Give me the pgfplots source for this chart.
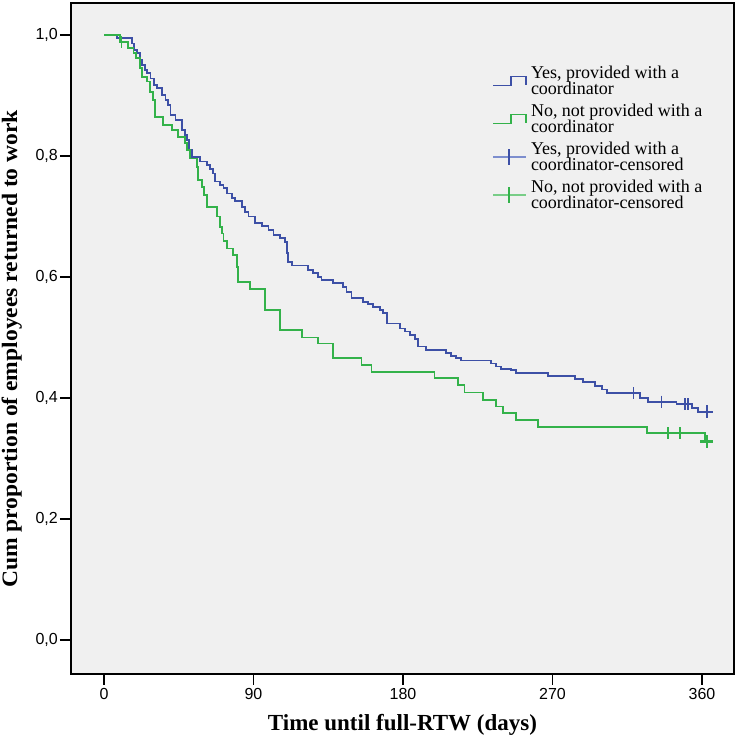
\documentclass[border=0pt]{standalone}
\usepackage{fontspec}
\setmainfont{Liberation Serif}
\newfontfamily\ticksfont{Liberation Sans}
\newfontfamily\ylabfont[FakeStretch=1.07]{Liberation Serif}
\usepackage{pgfplots}
\pgfplotsset{compat=1.18}
\definecolor{kmblue}{RGB}{61,80,166}
\definecolor{kmgreen}{RGB}{51,178,74}
\definecolor{kmbluel}{RGB}{125,142,206}
\definecolor{kmgreenl}{RGB}{120,205,135}
\definecolor{plotbg}{RGB}{240,240,240}

\pgfplotstableread{
d S
0 1.000
8 0.995
16.7 0.986
18 0.975
20 0.970
21.5 0.959
23 0.950
24.5 0.942
26 0.937
28 0.928
30 0.917
32 0.912
35 0.901
37 0.892
38.5 0.884
40 0.868
43 0.860
47 0.843
49 0.835
50 0.826
51 0.810
53 0.799
58 0.791
62 0.785
64 0.778
65.5 0.771
67 0.758
70 0.752
72 0.747
74 0.738
77 0.731
79 0.725
83 0.716
85 0.708
87 0.700
91 0.689
95 0.684
99 0.678
102 0.669
106 0.664
109 0.658
110 0.640
111 0.625
113 0.619
123 0.612
126 0.606
129 0.600
131 0.595
138 0.590
144 0.584
146 0.575
149 0.565
156 0.559
159 0.556
162 0.551
166 0.545
168 0.540
170.6 0.523
178 0.515
181 0.510
184 0.504
187 0.497
189 0.485
194 0.479
206 0.474
209 0.470
212 0.466
215 0.462
233 0.457
236 0.452
239 0.448
245 0.446
248 0.441
267.5 0.437
283.6 0.432
288.6 0.427
295.6 0.420
300 0.414
302.6 0.408
322.7 0.400
327.7 0.394
344.7 0.390
353.8 0.383
357.8 0.377
363 0.377
}\blueKM

\pgfplotstableread{
d S
0 1.000
9.6 0.989
14.6 0.978
17.7 0.970
19.5 0.962
21.7 0.946
22.7 0.931
25.7 0.923
27.7 0.906
29.7 0.893
30.7 0.865
35.7 0.851
40.8 0.843
44.7 0.832
48.8 0.821
50 0.810
51.8 0.796
55.8 0.782
56.8 0.760
58.8 0.749
60 0.735
61.8 0.716
67.8 0.700
69.8 0.683
70.9 0.672
72 0.660
73.9 0.647
77.9 0.636
79.9 0.617
80.9 0.592
87.9 0.580
96.9 0.546
106 0.512
119 0.500
129 0.490
138 0.466
155 0.455
161 0.4435
199 0.4325
213 0.421
217 0.409
228 0.397
236 0.386
240 0.375
248 0.364
261.5 0.352
326.7 0.342
362 0.328
363 0.328
}\greenKM

\begin{document}
\begin{tikzpicture}
\begin{axis}[
  scale only axis, width=663pt, height=671pt,
  xmin=-19.87, xmax=379.3, ymin=-0.0562, ymax=1.0529,
  axis background/.style={fill=plotbg},
  axis line style={line width=1.6pt, black},
  xtick={0,90,180,270,360}, xticklabels={0,90,180,270,360},
  ytick={0,0.2,0.4,0.6,0.8,1.0},
  yticklabels={{0,0},{0,2},{0,4},{0,6},{0,8},{1,0}},
  tick align=outside, major tick length=11pt,
  tick style={line width=1.6pt, black},
  xtick pos=bottom, ytick pos=left,
  ticklabel style={font=\fontsize{16}{18}\selectfont\ticksfont, inner sep=0pt},
  yticklabel style={xshift=-2pt},
  xticklabel style={yshift=-3pt},
  xlabel={Time until full-RTW (days)},
  ylabel={Cum proportion of employees returned to work},
  xlabel style={font=\fontsize{23}{26}\selectfont\bfseries, inner sep=0pt,
    at={(axis description cs:0.5,0)}, anchor=base, yshift=-56pt, text depth=14pt},
  ylabel style={font=\fontsize{22}{26}\selectfont\ylabfont\bfseries, inner sep=0pt,
    at={(axis description cs:-0.0739,0.4844)}, anchor=south},
  legend style={at={(axis description cs:0.635,0.9066)}, anchor=north west,
    draw=none, fill=none, inner sep=0pt, outer sep=0pt,
    row sep=7.5pt, column sep=4pt,
    font=\fontsize{18}{16.5}\selectfont,
    nodes={inner sep=0pt},
    cells={anchor=west, align=left}},
  legend cell align=left,
  clip=false,
]
\addplot[const plot, kmblue, line width=1.8pt,
  legend image code/.code={\draw[kmblue, line width=1.5pt] (0pt,-4.5pt) -- (18pt,-4.5pt) -- (18pt,4.5pt) -- (33pt,4.5pt) -- (33pt,-4.5pt);}]
  table[x=d, y=S] {\blueKM};
\addlegendentry{Yes, provided with a\\coordinator}
\addplot[const plot, kmgreen, line width=1.8pt,
  legend image code/.code={\draw[kmgreen, line width=1.5pt] (0pt,-4.5pt) -- (18pt,-4.5pt) -- (18pt,4.5pt) -- (33pt,4.5pt) -- (33pt,-4.5pt);}]
  table[x=d, y=S] {\greenKM};
\addlegendentry{No, not provided with a\\coordinator}
\addplot[only marks, mark=|, mark size=6pt, kmblue, mark options={line width=1.5pt},
  legend image code/.code={\draw[kmbluel, line width=2pt] (0pt,0pt) -- (33pt,0pt); \draw[kmblue, line width=1.4pt] (16pt,-8pt) -- (16pt,8pt);}]
  coordinates {(318.7,0.408) (335.7,0.394) (349.8,0.390) (351.5,0.390)};
\addlegendentry{Yes, provided with a\\coordinator-censored}
\addplot[only marks, mark=|, mark size=6pt, kmgreen, mark options={line width=1.5pt},
  legend image code/.code={\draw[kmgreenl, line width=2pt] (0pt,0pt) -- (33pt,0pt); \draw[kmgreen, line width=1.4pt] (16pt,-8pt) -- (16pt,8pt);}]
  coordinates {(10.5,0.989) (339.7,0.342) (346.8,0.342)};
\addlegendentry{No, not provided with a\\coordinator-censored}
\addplot[forget plot, only marks, mark=+, mark size=6.5pt, kmblue, mark options={line width=2.8pt}]
  coordinates {(363,0.377)};
\addplot[forget plot, only marks, mark=+, mark size=6.5pt, kmgreen, mark options={line width=2.8pt}]
  coordinates {(363,0.328)};
\path (rel axis cs:1,1) ++(7pt,3pt);
\path (rel axis cs:0,0.5) ++(-71pt,0pt);
\end{axis}
\end{tikzpicture}
\end{document}
